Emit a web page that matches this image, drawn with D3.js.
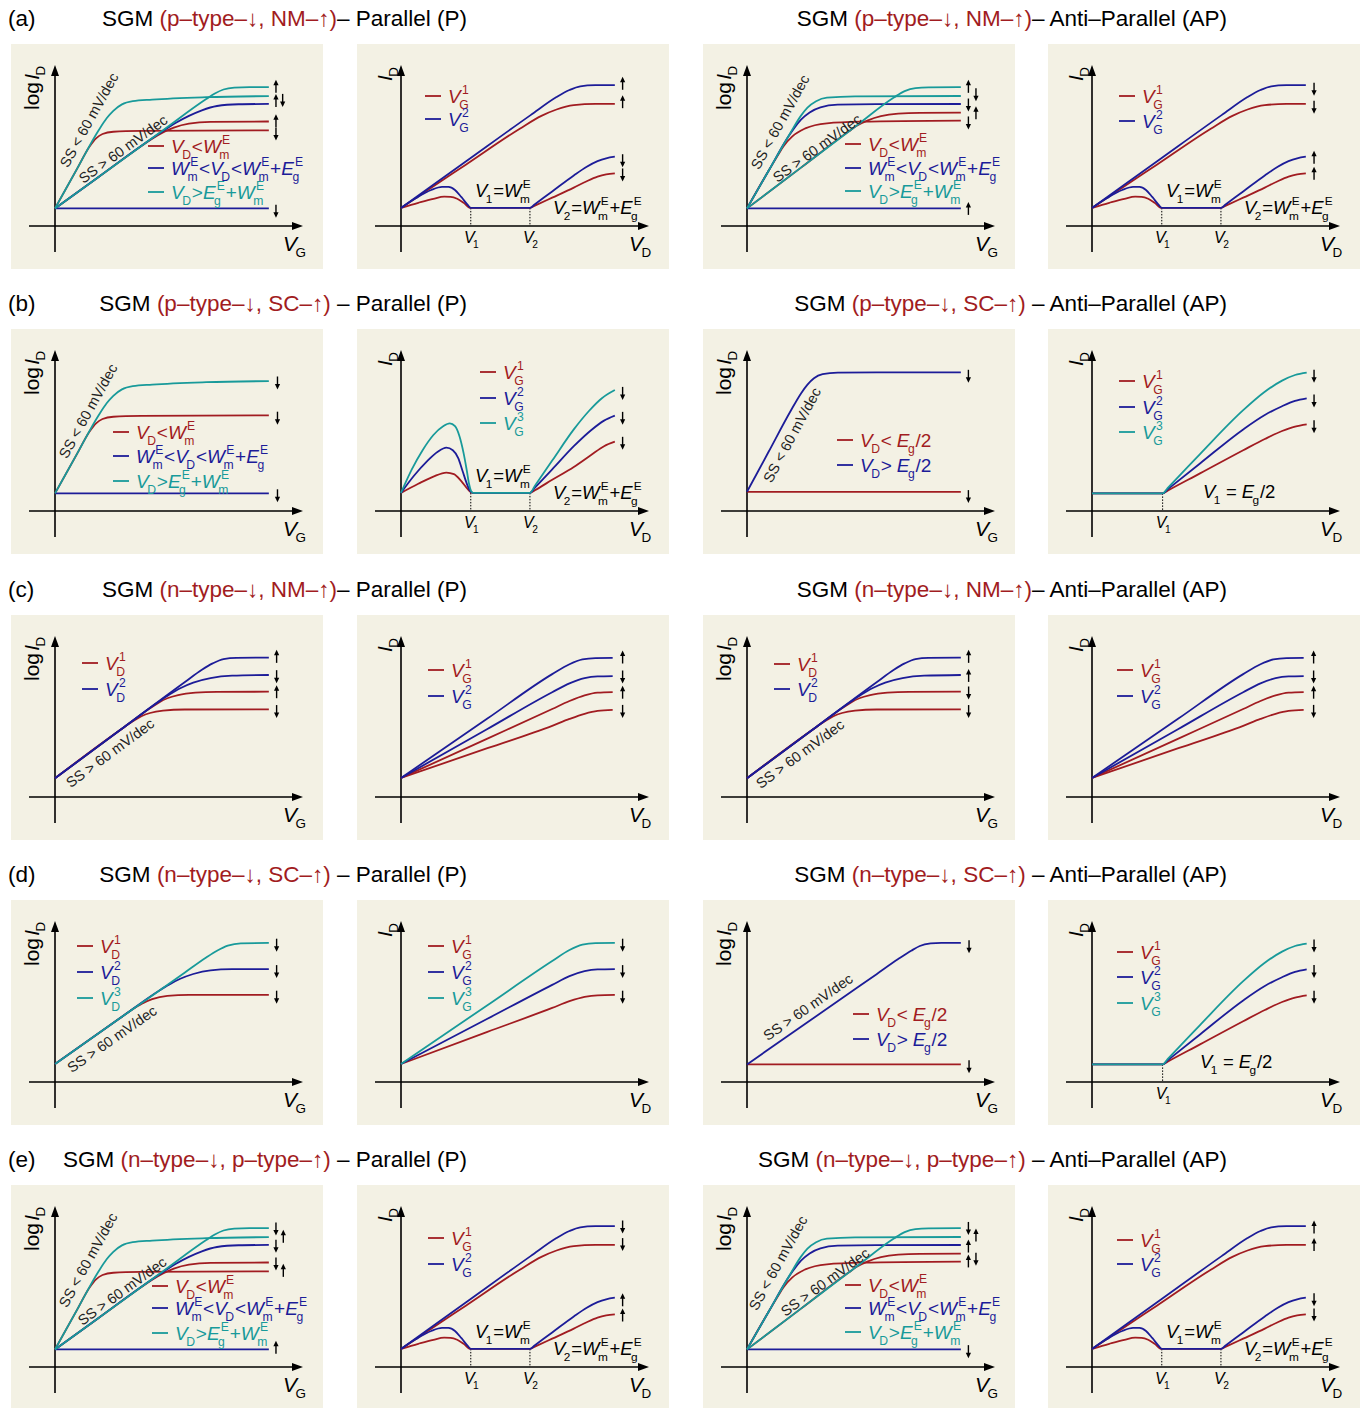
<!DOCTYPE html>
<html lang="en">
<head>
<meta charset="UTF-8">
<title>SGM characteristics</title>
<script src="https://cdn.jsdelivr.net/npm/d3@7"></script>
<style>
  body { margin: 0; background: #fff; }
  svg { font-family: "Liberation Sans", Arial, Helvetica, sans-serif; display: block; }
</style>
</head>
<body>
<svg id="fig"></svg>
<script>
// ---- text ----
var rowLetters = ["(a)", "(b)", "(c)", "(d)", "(e)"];
var rowMaterials = ["(p–type–↓, NM–↑)", "(p–type–↓, SC–↑)", "(n–type–↓, NM–↑)", "(n–type–↓, SC–↑)", "(n–type–↓, p–type–↑)"];
var rowSep = ["", " ", "", " ", " "];
var legendRegimes = ["V_D<W_m^E", "W_m^E<V_D<W_m^E+E_g^E", "V_D>E_g^E+W_m^E"];
var legendVG2 = ["V_G^1", "V_G^2"];
var legendVG3 = ["V_G^1", "V_G^2", "V_G^3"];
var legendVD2 = ["V_D^1", "V_D^2"];
var legendVD3 = ["V_D^1", "V_D^2", "V_D^3"];
var legendHalfGap = ["V_D< E_g/2", "V_D> E_g/2"];

// ---- curves (schematic units, x 0..100, y 0..100) ----
var offFlat = [[0,11],[99,11]];
// (a) P, log ID - VG
var aPTealSteep = [[0,11],[10,35.2],[20,59.4],[24,67.5],[27,72],[31,76],[36,78],[45,79],[70,80.5],[99,81.2]];
var aPRedSteep = [[0,11],[10,35.2],[16,49.7],[19,54.8],[22,57.5],[27,58.9],[40,59.4],[99,59.8]];
var aPTealShallow = [[0,11],[20,30.5],[50,59.8],[70,79.3],[74,82.8],[78,85.3],[83,86.5],[90,86.8],[99,86.8]];
var aPBlueShallow = [[0,11],[20,30.5],[45,54.9],[50,59.4],[56,64.5],[62,68.8],[68,72.3],[75,75],[85,76.1],[99,76.3]];
var aPRedShallow = [[0,11],[20,30.5],[40,50],[45,54.6],[50,58.5],[55,61.5],[62,64],[72,65.1],[99,65.3]];
// (a) AP, log ID - VG
var aAPTealSteep = [[0,11],[10,34.5],[20,58],[25,69],[28,74],[32,78],[37,80.2],[50,81],[99,81.25]];
var aAPBlueSteep = [[0,11],[10,34.5],[19,55.6],[22,61.5],[25,66.5],[29,71],[34,74.2],[42,75.8],[60,76.2],[99,76.25]];
var aAPRedSteep = [[0,11],[10,34.5],[14,43.5],[17,50],[21,56],[27,61],[37,64.2],[53,65.2],[99,65.9]];
var aAPTealShallow = [[0,11],[25,36.5],[50,62],[68,80.3],[73,84.3],[78,86.2],[84,86.7],[99,86.8]];
var aAPRedShallow = [[0,11],[25,36.5],[47,59],[51,62.8],[56,66],[62,68.6],[70,70.2],[80,70.7],[99,70.8]];
// (a) ID - VD
var aUpperBlue = [[0,11.3],[30,40.3],[60,69.3],[72,80.6],[78,85],[83,87.3],[90,88],[99,88.1]];
var aUpperRed = [[0,11.3],[30,38.3],[55,60.8],[65,68.8],[72,72.8],[80,75.5],[90,76.3],[99,76.3]];
var aLowerBlue = [[0,11.3],[7,17.5],[14,22.5],[19,24.4],[22,24.4],[25,22.5],[28,18],[31,13],[32.3,11.3],[59.7,11.3],[62,13.6],[70,21.6],[80,31.6],[86,37],[91,40.5],[95,42.3],[99,43.3]];
var aLowerRed = [[0,11.3],[8,14.5],[15,17],[20,18.3],[23,18.2],[26,17],[29,14.5],[32.3,11.3],[59.7,11.3],[62,12.7],[70,17.7],[80,24],[86,28],[91,30.8],[95,32.2],[99,32.9]];
// (b) ID - VD, P
var bTealBump = [[0,11.3],[5,26],[10,38],[15,47.5],[19.5,53],[22.6,54.8],[25,53],[27,47],[29,36],[30.5,25],[31.5,17],[32.5,12.3],[33.5,11.3],[59.7,11.3],[62,15.8],[70,31.5],[80,51],[87,62.5],[93,70.5],[99,75.6]];
var bBlueBump = [[0,11.3],[6,22],[12,31],[17,37],[21,39.6],[24,38],[26.5,33],[28.5,25],[30.5,17],[32,12.5],[33.5,11.3],[59.7,11.3],[62,14.6],[70,26],[80,40.5],[88,50.5],[94,56.5],[99,59.6]];
var bRedBump = [[0,11.3],[8,17],[15,21.5],[21,24],[24.5,23],[28,18.5],[31,13.5],[33,11.3],[59.7,11.3],[62,13],[70,19.5],[80,27.5],[88,35],[94,40.5],[99,43.3]];
// (b) AP, log ID - VG
var bAPBlue = [[0,12],[10,37],[20,62],[25,73.5],[28,79],[31,83],[35,85.5],[42,86.5],[60,86.7],[99,86.7]];
var bAPRed = [[0,12],[99,12]];
// (b),(d) AP, ID - VD
var gapTeal = [[0,11],[32.7,11],[35,14.3],[50,35.6],[70,63],[80,74.5],[88,81.5],[94,85],[99.4,86.5]];
var gapBlue = [[0,11],[32.7,11],[35,13.5],[50,29.7],[70,51],[80,60],[88,65.5],[94,68.8],[99.4,70.4]];
var gapRed = [[0,11],[32.7,11],[35,12.7],[50,23.5],[70,38],[80,45],[88,50],[94,52.8],[99.4,54.2]];
// (c) log ID - VG
var cBlueTop = [[0,11.7],[30,41.7],[60,71.7],[68,79.5],[73,83.5],[78,86.2],[84,87],[99,87.1]];
var cBlueLow = [[0,11.7],[30,41.7],[48,59.5],[53,64],[58,68],[64,71.5],[72,74.3],[82,75.8],[99,76.25]];
var cRedTop = [[0,11.7],[30,41.7],[44,55.5],[48,59],[52,61.7],[57,63.7],[65,65.2],[75,65.7],[99,65.8]];
var cRedLow = [[0,11.7],[30,41.7],[36,47.3],[40,50.5],[44,52.5],[50,54],[60,54.7],[99,54.8]];
// (c) ID - VD
var c2BlueTop = [[0,11.9],[40,49],[70,76.8],[78,83],[84,86],[90,86.8],[98,86.9]];
var c2BlueLow = [[0,11.9],[40,42.5],[70,65.5],[78,71],[85,74.3],[91,75.4],[98,75.6]];
var c2RedTop = [[0,11.9],[40,36.5],[70,55],[78,60],[85,63.5],[91,65.2],[98,65.6]];
var c2RedLow = [[0,11.9],[40,30.5],[70,44.5],[78,48.8],[85,52],[91,53.8],[98,54.4]];
// (d) log ID - VG, P
var dTeal = [[0,11.25],[30,39.8],[60,68.3],[70,77.8],[75,82],[80,85.2],[86,86.7],[99,86.9]];
var dBlue = [[0,11.25],[30,39.8],[48,56.9],[53,61],[58,64.5],[64,67.5],[72,69.8],[82,70.5],[99,70.6]];
var dRed = [[0,11.25],[30,39.8],[36,45.5],[40,48.8],[45,51.8],[52,53.8],[62,54.4],[99,54.4]];
// (d) ID - VD, P
var d2Teal = [[0,11.25],[40,48],[70,75.6],[78,82.5],[84,85.8],[90,86.8],[99,86.9]];
var d2Blue = [[0,11.25],[40,39.5],[70,60.7],[78,66.2],[85,69.3],[91,70.4],[99,70.6]];
var d2Red = [[0,11.25],[40,31.3],[70,46.3],[78,50.5],[85,53.2],[91,54.2],[99,54.4]];
// (d) AP, log ID - VG
var d3Blue = [[0,11],[30,39.2],[60,67.4],[70,76.8],[76,82],[80,85],[85,86.6],[90,87],[99,87]];
var d3Red = [[0,11],[99,11]];

// special voltages [V1, V2, flat level]
var vMarksNM = [32.3, 59.7, 11.3];
var vMarksSC = [32.7, null, 11];

// change arrows [x, y, +1 up / -1 down]
var arrowsA1 = [[102.3,87.3,1],[102.3,78.5,1],[105.4,78.5,-1],[102.3,65.8,1],[102.3,57.5,-1],[102.3,9.2,-1]];
var arrowsA2 = [[102.6,89.2,1],[102.6,77.7,1],[102.6,40.8,-1],[102.6,31.9,-1]];
var arrowsA3 = [[102.5,87.3,1],[106,82,-1],[102.5,75.6,-1],[106,70.8,1],[102.5,64.4,-1],[102.5,11,1]];
var arrowsA4 = [[102.8,85.4,-1],[102.8,74.2,-1],[102.8,42.9,1],[102.8,32.9,1]];
var arrowsB1 = [[103,80,-1],[103,58,-1],[103,9.5,-1]];
var arrowsB2 = [[102.6,73.5,-1],[102.6,57.9,-1],[102.6,42.3,-1]];
var arrowsB3 = [[102.5,84.2,-1],[102.5,9,-1]];
var arrowsB4 = [[102.8,84.2,-1],[102.8,68.75,-1],[102.8,52.7,-1]];
var arrowsC1 = [[102.6,87.9,1],[102.6,75.2,-1],[102.6,65.8,1],[102.6,53.4,-1]];
var arrowsC2 = [[102.6,87.5,1],[102.6,75,-1],[102.6,65.5,1],[102.6,53.5,-1]];
var arrowsC3 = [[102.6,87.9,1],[102.6,76,1],[102.6,65,-1],[102.6,53.4,-1]];
var arrowsC4 = [[102.6,87.5,1],[102.6,75,-1],[102.6,65.5,1],[102.6,53.5,-1]];
var arrowsD1 = [[102.6,85.5,-1],[102.6,69,-1],[102.6,53,-1]];
var arrowsD2 = [[102.6,85.5,-1],[102.6,69,-1],[102.6,53,-1]];
var arrowsD3 = [[102.8,84.6,-1],[102.8,9.6,-1]];
var arrowsD4 = [[102.8,85,-1],[102.8,69,-1],[102.8,53,-1]];
var arrowsE1 = [[102.3,86.25,-1],[105.7,81.7,1],[102.3,75.4,-1],[102.3,64.4,-1],[105.7,60.4,1],[102.3,12.3,1]];
var arrowsE2 = [[102.6,87.5,-1],[102.6,76.5,-1],[102.6,42,1],[102.6,32.5,1]];
var arrowsE3 = [[102.5,86.6,-1],[106,82.5,1],[102.5,75.6,1],[102.5,66.3,1],[106,67.3,-1],[102.5,9.6,-1]];
var arrowsE4 = [[102.8,87.5,1],[102.8,76.5,1],[102.8,42,-1],[102.8,32.5,-1]];

// ---- layout ----
var width = 1367, height = 1408;
var colX = [11, 357, 703, 1048];
var rowY = [44, 329, 615, 900, 1185];
var boxW = 312, boxH = 225;
var red = "#a11c21", blue = "#1c1c98", teal = "#189a9a", bg = "#f3f1e4";

var svg = d3.select("#fig").attr("width", width).attr("height", height);
svg.append("rect").attr("width", width).attr("height", height).attr("fill", "#fff");

var x = d3.scaleLinear().domain([0, 100]).range([44, 260]);
var y = d3.scaleLinear().domain([0, 100]).range([182, 22]);
var line = d3.line().x(function(d) { return x(d[0]); }).y(function(d) { return y(d[1]); }).curve(d3.curveMonotoneX);

function parseRich(str) {
    var toks = [], i = 0;
    while (i < str.length) {
        var ch = str[i];
        if (ch === "_" || ch === "^") {
            var s;
            if (str[i + 1] === "{") { var j = str.indexOf("}", i); s = str.slice(i + 2, j); i = j + 1; }
            else { s = str[i + 1]; i += 2; }
            var last = toks[toks.length - 1];
            if (ch === "_") last.sub = s; else last.sup = s;
        } else { toks.push({t: ch}); i++; }
    }
    return toks;
}

// math-ish label: V, W, E, I italic, sub/superscripts stacked
function rich(parent, str, px, py, size, fill, anchor, rot) {
    var g = parent.append("g").attr("fill", fill)
        .attr("transform", "translate(" + px + "," + py + ")" + (rot ? " rotate(" + rot + ")" : ""));
    var inner = g.append("g");
    var small = size * 0.64, cx = 0;
    parseRich(str).forEach(function(tk) {
        if (tk.t === " ") { cx += size * 0.26; return; }
        if (tk.t === "~") { cx += size * 0.1; return; }
        var it = /[VWEI]/.test(tk.t);
        var t = inner.append("text").attr("x", cx).attr("font-size", size)
            .attr("font-style", it ? "italic" : "normal").text(tk.t);
        cx += t.node().getComputedTextLength();
        if (tk.sub || tk.sup) {
            var w = 0;
            if (tk.sup) {
                var s1 = inner.append("text").attr("x", cx + (it ? 1.2 : 0)).attr("y", -size * 0.47)
                    .attr("font-size", small).text(tk.sup);
                w = Math.max(w, s1.node().getComputedTextLength() + (it ? 1.2 : 0));
            }
            if (tk.sub) {
                var s2 = inner.append("text").attr("x", cx - (it ? 1.5 : 0)).attr("y", size * 0.3)
                    .attr("font-size", small).text(tk.sub);
                w = Math.max(w, s2.node().getComputedTextLength() - (it ? 1.5 : 0));
            }
            cx += w + 0.8;
        }
    });
    var shift = anchor === "middle" ? -cx / 2 : (anchor === "end" ? -cx : 0);
    inner.attr("transform", "translate(" + shift + ",0)");
    return g;
}

var panelSpecs = [
    // (a)
    {r:0, c:0, log:true, curves:[[red,aPRedSteep],[red,aPRedShallow],[blue,aPBlueShallow],[blue,offFlat],[teal,aPTealSteep],[teal,aPTealShallow]],
     arrows:arrowsA1, leg:{x:137, ys:[102,124,148], labels:legendRegimes, colors:[red,blue,teal]},
     ss:[["SS < 60 mV/dec",78,76,-61],["SS > 60 mV/dec",112,105,-36]]},
    {r:0, c:1, log:false, curves:[[red,aUpperRed],[red,aLowerRed],[blue,aUpperBlue],[blue,aLowerBlue]],
     arrows:arrowsA2, leg:{x:68, ys:[52,75], labels:legendVG2, colors:[red,blue]}, marks:vMarksNM, nm:true},
    {r:0, c:2, log:true, curves:[[red,aAPRedSteep],[red,aAPRedShallow],[blue,aAPBlueSteep],[blue,offFlat],[teal,aAPTealSteep],[teal,aAPTealShallow]],
     arrows:arrowsA3, leg:{x:142, ys:[100,124,147], labels:legendRegimes, colors:[red,blue,teal]},
     ss:[["SS < 60 mV/dec",77,78,-61],["SS > 60 mV/dec",114,104,-36]]},
    {r:0, c:3, log:false, curves:[[red,aUpperRed],[red,aLowerRed],[blue,aUpperBlue],[blue,aLowerBlue]],
     arrows:arrowsA4, leg:{x:71, ys:[52,77], labels:legendVG2, colors:[red,blue]}, marks:vMarksNM, nm:true},
    // (b)
    {r:1, c:0, log:true, curves:[[red,aPRedSteep],[blue,offFlat],[teal,aPTealSteep]],
     arrows:arrowsB1, leg:{x:102, ys:[103,127,152], labels:legendRegimes, colors:[red,blue,teal]},
     ss:[["SS < 60 mV/dec",77,82,-61]]},
    {r:1, c:1, log:false, curves:[[red,bRedBump],[blue,bBlueBump],[teal,bTealBump]],
     arrows:arrowsB2, leg:{x:123, ys:[43,69,94], labels:legendVG3, colors:[red,blue,teal]}, marks:vMarksNM, nm:true},
    {r:1, c:2, log:true, curves:[[red,bAPRed],[blue,bAPBlue]],
     arrows:arrowsB3, leg:{x:134, ys:[111,136], labels:legendHalfGap, colors:[red,blue]},
     ss:[["SS < 60 mV/dec",89,106,-61.6]]},
    {r:1, c:3, log:false, curves:[[red,gapRed],[blue,gapBlue],[teal,gapTeal]],
     arrows:arrowsB4, leg:{x:71, ys:[52,78,103], labels:legendVG3, colors:[red,blue,teal]}, marks:vMarksSC, sc:[155,169]},
    // (c)
    {r:2, c:0, log:true, curves:[[red,cRedTop],[red,cRedLow],[blue,cBlueLow],[blue,cBlueTop]],
     arrows:arrowsC1, leg:{x:71, ys:[48,74], labels:legendVD2, colors:[red,blue]},
     ss:[["SS > 60 mV/dec",99,138,-36.5]]},
    {r:2, c:1, log:false, curves:[[red,c2RedLow],[red,c2RedTop],[blue,c2BlueLow],[blue,c2BlueTop]],
     arrows:arrowsC2, leg:{x:71, ys:[55,81], labels:legendVG2, colors:[red,blue]}},
    {r:2, c:2, log:true, curves:[[red,cRedTop],[red,cRedLow],[blue,cBlueLow],[blue,cBlueTop]],
     arrows:arrowsC3, leg:{x:71, ys:[49,74], labels:legendVD2, colors:[red,blue]},
     ss:[["SS > 60 mV/dec",97,139,-36.5]]},
    {r:2, c:3, log:false, curves:[[red,c2RedLow],[red,c2RedTop],[blue,c2BlueLow],[blue,c2BlueTop]],
     arrows:arrowsC4, leg:{x:69, ys:[55,81], labels:legendVG2, colors:[red,blue]}},
    // (d)
    {r:3, c:0, log:true, curves:[[red,dRed],[blue,dBlue],[teal,dTeal]],
     arrows:arrowsD1, leg:{x:66, ys:[46,72,98], labels:legendVD3, colors:[red,blue,teal]},
     ss:[["SS > 60 mV/dec",101,139,-35]]},
    {r:3, c:1, log:false, curves:[[red,d2Red],[blue,d2Blue],[teal,d2Teal]],
     arrows:arrowsD2, leg:{x:71, ys:[46,72,98], labels:legendVG3, colors:[red,blue,teal]}},
    {r:3, c:2, log:true, curves:[[red,d3Red],[blue,d3Blue]],
     arrows:arrowsD3, leg:{x:150, ys:[114,139], labels:legendHalfGap, colors:[red,blue]},
     ss:[["SS > 60 mV/dec",105,107,-35]]},
    {r:3, c:3, log:false, curves:[[red,gapRed],[blue,gapBlue],[teal,gapTeal]],
     arrows:arrowsD4, leg:{x:69, ys:[52,77,103], labels:legendVG3, colors:[red,blue,teal]}, marks:vMarksSC, sc:[152,168]},
    // (e)
    {r:4, c:0, log:true, curves:[[red,aPRedSteep],[red,aPRedShallow],[blue,aPBlueShallow],[blue,offFlat],[teal,aPTealSteep],[teal,aPTealShallow]],
     arrows:arrowsE1, leg:{x:141, ys:[101,123,148], labels:legendRegimes, colors:[red,blue,teal]},
     ss:[["SS < 60 mV/dec",77,75,-61],["SS > 60 mV/dec",111,106,-36]]},
    {r:4, c:1, log:false, curves:[[red,aUpperRed],[red,aLowerRed],[blue,aUpperBlue],[blue,aLowerBlue]],
     arrows:arrowsE2, leg:{x:71, ys:[53,79], labels:legendVG2, colors:[red,blue]}, marks:vMarksNM, nm:true},
    {r:4, c:2, log:true, curves:[[red,aAPRedSteep],[red,aAPRedShallow],[blue,aAPBlueSteep],[blue,offFlat],[teal,aAPTealSteep],[teal,aAPTealShallow]],
     arrows:arrowsE3, leg:{x:142, ys:[100,123,147], labels:legendRegimes, colors:[red,blue,teal]},
     ss:[["SS < 60 mV/dec",75,78,-61],["SS > 60 mV/dec",122,97,-36]]},
    {r:4, c:3, log:false, curves:[[red,aUpperRed],[red,aLowerRed],[blue,aUpperBlue],[blue,aLowerBlue]],
     arrows:arrowsE4, leg:{x:69, ys:[55,79], labels:legendVG2, colors:[red,blue]}, marks:vMarksNM, nm:true}
];

// row titles
rowLetters.forEach(function(lt, r) {
    var base = rowY[r] - 18;
    svg.append("text").attr("x", 8).attr("y", base).attr("font-size", 22.5).text(lt);
    [[467, "Parallel (P)"], [1227, "Anti–Parallel (AP)"]].forEach(function(tt) {
        var t = svg.append("text").attr("x", tt[0]).attr("y", base).attr("font-size", 22.5)
            .attr("text-anchor", "end").style("white-space", "pre");
        t.append("tspan").text("SGM ");
        t.append("tspan").attr("fill", red).text(rowMaterials[r]);
        t.append("tspan").text(rowSep[r] + "– " + tt[1]);
    });
});

function drawArrow(g, a) {
    var px = x(a[0]), py = y(a[1]), dir = a[2];
    var tip = py - dir * 6.5, tail = py + dir * 6.5;
    g.append("line").attr("x1", px).attr("x2", px).attr("y1", tail).attr("y2", tip + dir * 3)
        .attr("stroke", "#000").attr("stroke-width", 1.4);
    g.append("path").attr("fill", "#000")
        .attr("d", "M" + px + "," + tip + "L" + (px - 2.6) + "," + (tip + dir * 5.5) + "L" + (px + 2.6) + "," + (tip + dir * 5.5) + "Z");
}

panelSpecs.forEach(function(p) {
    var g = svg.append("g").attr("transform", "translate(" + colX[p.c] + "," + rowY[p.r] + ")");
    g.append("rect").attr("width", boxW).attr("height", boxH).attr("fill", bg);

    // axes
    var x0 = x(0), y0 = y(0);
    g.append("line").attr("x1", 18).attr("x2", 285).attr("y1", y0).attr("y2", y0).attr("stroke", "#000").attr("stroke-width", 1.6);
    g.append("path").attr("d", "M292," + y0 + "L281," + (y0 - 4) + "L281," + (y0 + 4) + "Z").attr("fill", "#000");
    g.append("line").attr("x1", x0).attr("x2", x0).attr("y1", 208).attr("y2", 28).attr("stroke", "#000").attr("stroke-width", 1.6);
    g.append("path").attr("d", "M" + x0 + ",21L" + (x0 - 4) + ",32L" + (x0 + 4) + ",32Z").attr("fill", "#000");

    if (p.log) {
        rich(g, "log~I_D", 28, 66, 21, "#000", "start", -90);
        rich(g, "V_G", 272, 207, 21, "#000", "start");
    } else {
        rich(g, "I_D", 35, 37, 21, "#000", "start", -90);
        rich(g, "V_D", 272, 207, 21, "#000", "start");
    }

    // special voltage markers
    if (p.marks) {
        p.marks.forEach(function(v, i) {
            if (i > 1 || v === null) return;
            g.append("line").attr("x1", x(v)).attr("x2", x(v)).attr("y1", y(p.marks[2])).attr("y2", y0)
                .attr("stroke", "#000").attr("stroke-width", 1).attr("stroke-dasharray", "1.5,1.5");
            rich(g, "V_" + (i + 1), x(v) + 1, 199, 16, "#000", "middle");
        });
        if (p.nm) {
            rich(g, "V_1=W_m^E", 118, 153, 18.5, "#000", "start");
            rich(g, "V_2=W_m^E+E_g^E", 196, 170, 18.5, "#000", "start");
        } else {
            rich(g, "V_1 = E_g/2", p.sc[0], p.sc[1], 18.5, "#000", "start");
        }
    }

    // curves
    p.curves.forEach(function(cv) {
        g.append("path").attr("d", line(cv[1])).attr("fill", "none")
            .attr("stroke", cv[0]).attr("stroke-width", 1.8);
    });

    // change arrows
    p.arrows.forEach(function(a) { drawArrow(g, a); });

    // SS annotations
    (p.ss || []).forEach(function(s) {
        g.append("text").attr("transform", "translate(" + s[1] + "," + s[2] + ") rotate(" + s[3] + ")")
            .attr("text-anchor", "middle").attr("dy", "0.35em").attr("font-size", 14.5).attr("fill", "#222").text(s[0]);
    });

    // legend
    p.leg.labels.forEach(function(lb, i) {
        var ly = p.leg.ys[i], col = p.leg.colors[i];
        g.append("line").attr("x1", p.leg.x).attr("x2", p.leg.x + 16).attr("y1", ly).attr("y2", ly)
            .attr("stroke", col).attr("stroke-width", 1.8);
        rich(g, lb, p.leg.x + 23, ly + 7, 19, col, "start");
    });
});
</script>
</body>
</html>
